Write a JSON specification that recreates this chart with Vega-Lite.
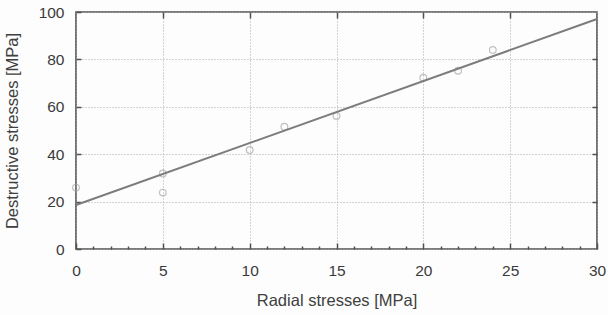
{
  "$schema": "https://vega.github.io/schema/vega-lite/v6.json",
  "width": 521,
  "height": 237,
  "autosize": "none",
  "padding": {"left": 76, "top": 12, "right": 11, "bottom": 66},
  "background": "#fdfdfd",
  "config": {
    "font": "Liberation Sans",
    "view": {"stroke": "#505050", "strokeWidth": 1.6},
    "axis": {
      "labelFont": "Liberation Sans",
      "titleFont": "Liberation Sans",
      "labelFontSize": 15.5,
      "titleFontSize": 16.5,
      "titleFontWeight": "normal",
      "labelColor": "#3a3a3a",
      "titleColor": "#404040",
      "tickColor": "#505050",
      "labelFlush": false,
      "domain": false,
      "gridColor": "#a8a8a8",
      "gridDash": [1, 2],
      "gridWidth": 1
    }
  },
  "data": {
    "values": [
      {"radial": 0, "destructive": 25.9},
      {"radial": 5, "destructive": 31.9},
      {"radial": 5, "destructive": 23.8},
      {"radial": 10, "destructive": 41.8},
      {"radial": 12, "destructive": 51.6},
      {"radial": 15, "destructive": 56.1},
      {"radial": 20, "destructive": 72.3},
      {"radial": 22, "destructive": 75.2},
      {"radial": 24, "destructive": 84.0}
    ]
  },
  "layer": [
    {
      "mark": {"type": "point", "shape": "circle", "size": 45, "color": "#a8a8a8", "strokeWidth": 1.2, "filled": false},
      "encoding": {
        "x": {
          "field": "radial", "type": "quantitative",
          "scale": {"domain": [0, 30], "nice": false, "zero": false},
          "axis": {
            "orient": "bottom", "values": [0, 5, 10, 15, 20, 25, 30],
            "title": "Radial stresses [MPa]", "grid": true,
            "tickSize": -6, "tickWidth": 1.5, "labelPadding": 20, "titlePadding": 14
          }
        },
        "y": {
          "field": "destructive", "type": "quantitative",
          "scale": {"domain": [0, 100], "nice": false},
          "axis": {
            "orient": "left", "values": [0, 20, 40, 60, 80, 100],
            "title": "Destructive stresses [MPa]", "grid": true,
            "tickSize": -5, "tickWidth": 1.5, "labelPadding": 17, "titlePadding": 18
          }
        }
      }
    },
    {
      "transform": [{"regression": "destructive", "on": "radial", "extent": [0, 30]}],
      "mark": {"type": "line", "color": "#7c7c7c", "strokeWidth": 2},
      "encoding": {
        "x": {
          "field": "radial", "type": "quantitative",
          "axis": {"orient": "top", "values": [5, 10, 15, 20, 25], "labels": false, "grid": false, "title": null, "tickSize": -6, "tickWidth": 1.5}
        },
        "y": {
          "field": "destructive", "type": "quantitative",
          "axis": {"orient": "right", "values": [20, 40, 60, 80], "labels": false, "grid": false, "title": null, "tickSize": -5, "tickWidth": 1.5}
        }
      }
    },
    {
      "mark": {"type": "point", "opacity": 0},
      "encoding": {
        "x": {
          "field": "radial", "type": "quantitative",
          "axis": {"orient": "bottom", "values": [1, 2, 3, 4, 6, 7, 8, 9, 11, 12, 13, 14, 16, 17, 18, 19, 21, 22, 23, 24, 26, 27, 28, 29], "labels": false, "grid": false, "title": null, "tickSize": -3, "tickWidth": 1.5}
        },
        "y": {
          "field": "destructive", "type": "quantitative",
          "axis": null
        }
      }
    }
  ],
  "resolve": {"axis": {"x": "independent", "y": "independent"}}
}
